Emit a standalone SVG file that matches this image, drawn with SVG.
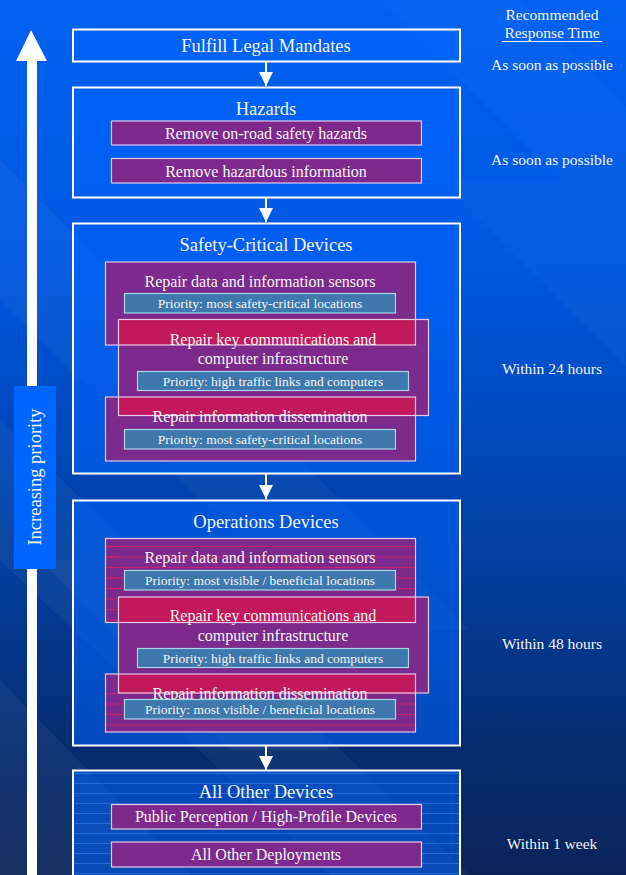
<svg xmlns="http://www.w3.org/2000/svg" width="626" height="875" viewBox="0 0 626 875">
  <defs>
    <linearGradient id="bg" x1="0" y1="0" x2="0" y2="875" gradientUnits="userSpaceOnUse">
      <stop offset="0" stop-color="#0061f2"/>
      <stop offset="0.3" stop-color="#0058e0"/>
      <stop offset="0.5" stop-color="#0048bb"/>
      <stop offset="0.7" stop-color="#033a92"/>
      <stop offset="0.85" stop-color="#062c70"/>
      <stop offset="1" stop-color="#0a2458"/>
    </linearGradient>
    <pattern id="redlines" x="0" y="0" width="10" height="10.5" patternUnits="userSpaceOnUse">
      <rect x="0" y="0" width="10" height="1" fill="#e0205a" opacity="0.7"/>
    </pattern>
    <pattern id="bluelines" x="0" y="0" width="10" height="10" patternUnits="userSpaceOnUse">
      <rect x="0" y="3" width="10" height="1" fill="#3a8cff" opacity="0.45"/>
    </pattern>
    <marker id="ah" viewBox="0 0 14 14" refX="14" refY="7" markerWidth="14" markerHeight="14" markerUnits="userSpaceOnUse" orient="auto">
      <path d="M0,0 L14,7 L0,14 Z" fill="#ffffff"/>
    </marker>
    <style>
      .t { font-family: "Liberation Serif", "Times New Roman", serif; fill: #f4f4f4; text-anchor: middle; }
      .title { font-size: 18.5px; }
      .sub { font-size: 16px; }
      .pri { font-size: 13.5px; }
      .side { font-size: 15.5px; }
      .main { fill: #0064ff; fill-opacity: 0.55; stroke: #ffffff; stroke-width: 2; }
      .purple { fill: #7c2a8c; }
      .crimson { fill: #c2195d; }
      .pbord { fill: none; stroke: #e6c8e8; stroke-width: 1.2; }
      .hz { fill: #7e2a8c; stroke: #e6c8e8; stroke-width: 1.2; }
      .prib { fill: #3e78ac; stroke: #a8d4e4; stroke-width: 1.2; }
      .conn { stroke: #ffffff; stroke-width: 2; fill: none; }
    </style>
  </defs>

  <!-- background -->
  <rect x="0" y="0" width="626" height="875" fill="url(#bg)"/>
  <g id="bg-bands" fill="#ffffff">
    <polygon points="0,160 0,300 330,630 470,630" opacity="0.035"/>
    <polygon points="0,420 0,560 330,875 470,875" opacity="0.045"/>
    <polygon points="0,680 0,875 190,875" opacity="0.05"/>
    <polygon points="380,0 520,0 626,106 626,246" opacity="0.025"/>
    <polygon points="440,180 560,180 626,246 626,366" opacity="0.025"/>
    <polygon points="40,560 140,560 330,750 230,750" opacity="0.04"/>
  </g>

  <!-- priority arrow -->
  <g id="priority-arrow">
    <polygon points="31,30 47,61 37,61 37,875 27,875 27,61 16,61" fill="#ffffff"/>
    <rect x="14" y="386" width="42" height="183" fill="#0066ff"/>
    <text class="t" x="0" y="0" font-size="18.5" transform="translate(41,477) rotate(-90)">Increasing priority</text>
  </g>

  <!-- connectors -->
  <g id="connectors">
    <line class="conn" x1="266" y1="62" x2="266" y2="86" marker-end="url(#ah)"/>
    <line class="conn" x1="266" y1="198" x2="266" y2="222" marker-end="url(#ah)"/>
    <line class="conn" x1="266" y1="474" x2="266" y2="499" marker-end="url(#ah)"/>
    <line class="conn" x1="266" y1="746" x2="266" y2="770" marker-end="url(#ah)"/>
  </g>

  <!-- Fulfill Legal Mandates -->
  <g id="legal">
    <rect class="main" x="73" y="29.5" width="387" height="32"/>
    <text class="t title" x="266" y="52">Fulfill Legal Mandates</text>
  </g>

  <!-- Hazards -->
  <g id="hazards">
    <rect class="main" x="73" y="87.5" width="387" height="110"/>
    <text class="t title" x="266" y="115">Hazards</text>
    <g id="hazard-onroad">
      <rect class="hz" x="111.5" y="121" width="310" height="24"/>
      <text class="t sub" x="266" y="138.5">Remove on-road safety hazards</text>
    </g>
    <g id="hazard-info">
      <rect class="hz" x="111.5" y="158.5" width="310" height="24.5"/>
      <text class="t sub" x="266" y="176.5">Remove hazardous information</text>
    </g>
  </g>

  <!-- Safety-Critical Devices -->
  <g id="safety">
    <rect class="main" x="73" y="223.5" width="387" height="250"/>
    <text class="t title" x="266" y="251">Safety-Critical Devices</text>
    <rect class="purple" x="105.5" y="262" width="310" height="83"/>
    <rect class="purple" x="105.5" y="397" width="310" height="64"/>
    <rect class="purple" x="118.5" y="319.5" width="310" height="96"/>
    <rect class="crimson" x="118.5" y="319.5" width="297" height="25.5"/>
    <rect class="crimson" x="118.5" y="397" width="297" height="18.5"/>
    <rect class="pbord" x="105.5" y="262" width="310" height="83"/>
    <rect class="pbord" x="118.5" y="319.5" width="310" height="96"/>
    <rect class="pbord" x="105.5" y="397" width="310" height="64"/>
    <g id="safety-sensors">
      <text class="t sub" x="260" y="287">Repair data and information sensors</text>
      <rect class="prib" x="124.5" y="293.5" width="271" height="19.5"/>
      <text class="t pri" x="260" y="308">Priority: most safety-critical locations</text>
    </g>
    <g id="safety-comms">
      <text class="t sub" x="273" y="345">Repair key communications and</text>
      <text class="t sub" x="273" y="364">computer infrastructure</text>
      <rect class="prib" x="137.5" y="371.5" width="271" height="19"/>
      <text class="t pri" x="273" y="386">Priority: high traffic links and computers</text>
    </g>
    <g id="safety-dissem">
      <text class="t sub" x="260" y="422">Repair information dissemination</text>
      <rect class="prib" x="124.5" y="429.5" width="271" height="19.5"/>
      <text class="t pri" x="260" y="444">Priority: most safety-critical locations</text>
    </g>
  </g>

  <!-- Operations Devices -->
  <g id="operations">
    <rect class="main" x="73" y="500.5" width="387" height="245"/>
    <text class="t title" x="266" y="528">Operations Devices</text>
    <rect class="purple" x="105.5" y="538.5" width="310" height="84"/>
    <rect class="purple" x="105.5" y="674" width="310" height="58"/>
    <rect class="purple" x="118.5" y="597" width="310" height="96"/>
    <rect class="crimson" x="118.5" y="597" width="297" height="25.5"/>
    <rect class="crimson" x="118.5" y="674" width="297" height="19"/>
    <rect x="105.5" y="538.5" width="13" height="84" fill="url(#redlines)"/>
    <rect x="105.5" y="538.5" width="310" height="58.5" fill="url(#redlines)"/>
    <rect x="105.5" y="693" width="310" height="39" fill="url(#redlines)"/>
    <rect class="pbord" x="105.5" y="538.5" width="310" height="84"/>
    <rect class="pbord" x="118.5" y="597" width="310" height="96"/>
    <rect class="pbord" x="105.5" y="674" width="310" height="58"/>
    <g id="ops-sensors">
      <text class="t sub" x="260" y="563">Repair data and information sensors</text>
      <rect class="prib" x="124.5" y="570.5" width="271" height="19.5"/>
      <text class="t pri" x="260" y="585">Priority: most visible / beneficial locations</text>
    </g>
    <g id="ops-comms">
      <text class="t sub" x="273" y="621">Repair key communications and</text>
      <text class="t sub" x="273" y="641">computer infrastructure</text>
      <rect class="prib" x="137.5" y="648.5" width="271" height="19"/>
      <text class="t pri" x="273" y="663">Priority: high traffic links and computers</text>
    </g>
    <g id="ops-dissem">
      <text class="t sub" x="260" y="699">Repair information dissemination</text>
      <rect class="prib" x="124.5" y="699.5" width="271" height="19.5"/>
      <text class="t pri" x="260" y="714">Priority: most visible / beneficial locations</text>
    </g>
  </g>

  <!-- All Other Devices -->
  <g id="other">
    <rect class="main" x="73" y="770.5" width="387" height="110"/>
    <rect x="74" y="771.5" width="385" height="104" fill="url(#bluelines)"/>
    <text class="t title" x="266" y="798">All Other Devices</text>
    <g id="other-public">
      <rect class="hz" x="111.5" y="804.5" width="310" height="24.5"/>
      <text class="t sub" x="266" y="822">Public Perception / High-Profile Devices</text>
    </g>
    <g id="other-all">
      <rect class="hz" x="111.5" y="842" width="310" height="25"/>
      <text class="t sub" x="266" y="860">All Other Deployments</text>
    </g>
  </g>

  <!-- response times -->
  <g id="response-times">
    <text class="t side" x="552" y="20">Recommended</text>
    <text class="t side" x="552" y="38">Response Time</text>
    <line x1="502" y1="41.5" x2="602" y2="41.5" stroke="#f4f4f4" stroke-width="1.2"/>
    <text class="t side" x="552" y="70">As soon as possible</text>
    <text class="t side" x="552" y="165">As soon as possible</text>
    <text class="t side" x="552" y="374">Within 24 hours</text>
    <text class="t side" x="552" y="649">Within 48 hours</text>
    <text class="t side" x="552" y="849">Within 1 week</text>
  </g>
</svg>
